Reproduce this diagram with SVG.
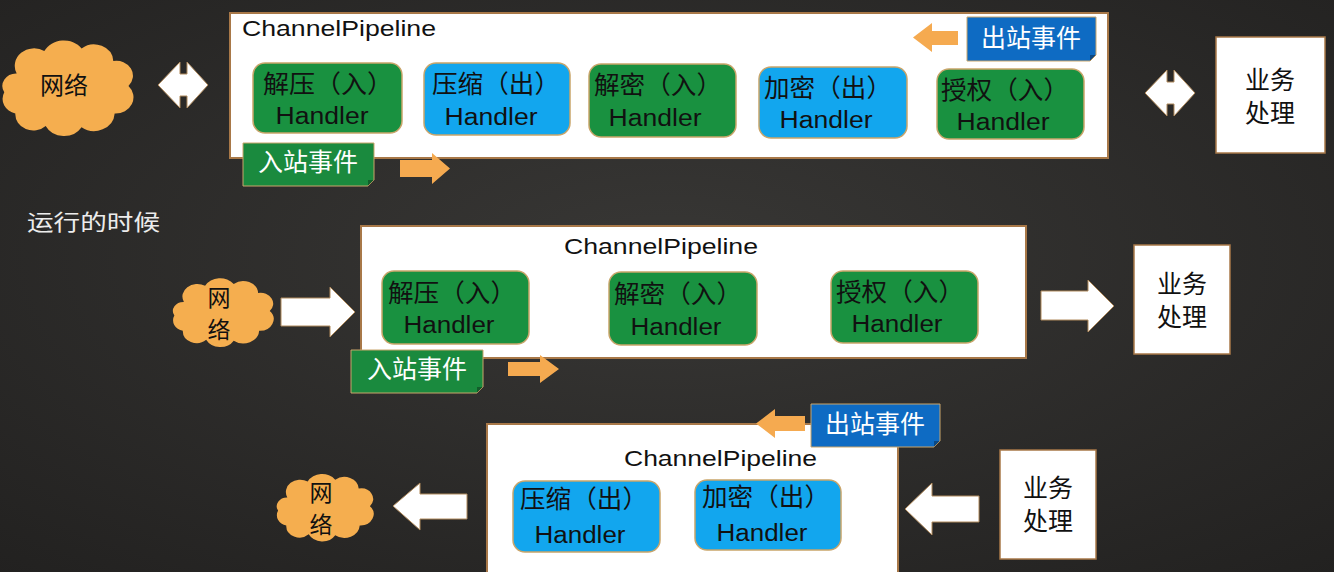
<svg xmlns="http://www.w3.org/2000/svg" width="1334" height="572" viewBox="0 0 1334 572">
<defs>
<radialGradient id="bg" cx="50%" cy="45%" r="75%">
<stop offset="0" stop-color="#383735"/>
<stop offset="1" stop-color="#222120"/>
</radialGradient>
<path id="cloud" d="M 15,30 A 14 14 0 0 1 35,12 A 16 16 0 0 1 62,10 A 14 14 0 0 1 85,20 A 12 12 0 0 1 96,40 A 13 13 0 0 1 86,62 A 15 15 0 0 1 62,73 A 15 15 0 0 1 36,72 A 13 13 0 0 1 14,62 A 12 12 0 0 1 6,45 A 10 10 0 0 1 15,30 Z"/>
</defs>
<style>
.pipe{fill:#ffffff;stroke:#a87848;stroke-width:2}
.biz{fill:#ffffff;stroke:#a87848;stroke-width:1.5}
.hin{fill:#199140;stroke:#c9a56a;stroke-width:1.5}
.hout{fill:#12a6ee;stroke:#c9a56a;stroke-width:1.5}
.cloud{fill:#f5ae4f}
.org{fill:#f5aa50}
.wht{fill:#ffffff;stroke:#b08a5c;stroke-width:1}
.lin{fill:#1a8a3e;stroke:#c9a56a;stroke-width:1}
.lout{fill:#0e6bc3;stroke:#c9a56a;stroke-width:1}
.fold{fill:#0a0a0a;opacity:0.35}
.t{font-family:"Liberation Sans","Noto Sans CJK SC",sans-serif;fill:#111111}
.cj{font-family:"Noto Sans CJK SC","Liberation Sans",sans-serif;fill:#111111}
.cw{font-family:"Noto Sans CJK SC","Liberation Sans",sans-serif;fill:#ffffff}
.mid{text-anchor:middle}
</style>
<rect width="1334" height="572" fill="url(#bg)"/>

<!-- ===== Row 1 ===== -->
<g id="net1">
<use href="#cloud" class="cloud" transform="translate(-4,36) scale(1.38,1.25)"/>
<text class="cj mid" x="64" y="94" font-size="24">网络</text>
</g>
<g id="pipeline1">
<rect class="pipe" x="230" y="13" width="878" height="145"/>
<text class="t" x="242" y="36" font-size="22" textLength="194" lengthAdjust="spacingAndGlyphs">ChannelPipeline</text>
</g>
<g id="h1-1">
<rect class="hin" x="253" y="63" width="149" height="70" rx="12"/>
<text class="cj mid" x="328" y="93" font-size="25" textLength="130" lengthAdjust="spacingAndGlyphs">解压（入）</text>
<text class="t mid" x="322" y="124" font-size="23" textLength="93" lengthAdjust="spacingAndGlyphs">Handler</text>
</g>
<g id="h1-2">
<rect class="hout" x="424" y="63" width="146" height="72" rx="12"/>
<text class="cj mid" x="496" y="93" font-size="25" textLength="128" lengthAdjust="spacingAndGlyphs">压缩（出）</text>
<text class="t mid" x="491" y="125" font-size="23" textLength="93" lengthAdjust="spacingAndGlyphs">Handler</text>
</g>
<g id="h1-3">
<rect class="hin" x="589" y="64" width="147" height="73" rx="12"/>
<text class="cj mid" x="658" y="94" font-size="25" textLength="128" lengthAdjust="spacingAndGlyphs">解密（入）</text>
<text class="t mid" x="655" y="126" font-size="23" textLength="93" lengthAdjust="spacingAndGlyphs">Handler</text>
</g>
<g id="h1-4">
<rect class="hout" x="759" y="67" width="148" height="71" rx="12"/>
<text class="cj mid" x="828" y="97" font-size="25" textLength="128" lengthAdjust="spacingAndGlyphs">加密（出）</text>
<text class="t mid" x="826" y="128" font-size="23" textLength="93" lengthAdjust="spacingAndGlyphs">Handler</text>
</g>
<g id="h1-5">
<rect class="hin" x="937" y="69" width="147" height="70" rx="12"/>
<text class="cj mid" x="1005" y="99" font-size="25" textLength="128" lengthAdjust="spacingAndGlyphs">授权（入）</text>
<text class="t mid" x="1003" y="130" font-size="23" textLength="93" lengthAdjust="spacingAndGlyphs">Handler</text>
</g>
<g id="inbound1">
<path class="lin" d="M243,143 H374 V180 L368,186 H243 Z"/>
<path class="fold" d="M374,180 L368,186 L368,180 Z"/>
<text class="cw mid" x="308" y="171" font-size="25">入站事件</text>
</g>
<g id="outbound1">
<path class="lout" d="M967,17 H1096 V55 L1090,61 H967 Z"/>
<path class="fold" d="M1096,55 L1090,61 L1090,55 Z"/>
<text class="cw mid" x="1031" y="47" font-size="25">出站事件</text>
</g>
<g id="biz1">
<rect class="biz" x="1216" y="37" width="109" height="116"/>
<text class="cj mid" x="1270" y="89" font-size="25">业务</text>
<text class="cj mid" x="1270" y="122" font-size="25">处理</text>
</g>

<!-- ===== Running label ===== -->
<text id="running" x="27" y="230" font-size="22" textLength="133" lengthAdjust="spacingAndGlyphs" style="font-family:'Noto Sans CJK SC','Liberation Sans',sans-serif;fill:#ececec">运行的时候</text>

<!-- ===== Row 2 ===== -->
<g id="net2">
<use href="#cloud" class="cloud" transform="translate(168,275) scale(1.06,0.9)"/>
<text class="cj mid" x="219" y="306" font-size="23">网</text>
<text class="cj mid" x="219" y="338" font-size="23">络</text>
</g>
<g id="pipeline2">
<rect class="pipe" x="361" y="226" width="665" height="132"/>
<text class="t" x="564" y="254" font-size="22" textLength="194" lengthAdjust="spacingAndGlyphs">ChannelPipeline</text>
</g>
<g id="h2-1">
<rect class="hin" x="382" y="271" width="147" height="73" rx="12"/>
<text class="cj mid" x="452" y="302" font-size="25" textLength="128" lengthAdjust="spacingAndGlyphs">解压（入）</text>
<text class="t mid" x="449" y="333" font-size="23" textLength="91" lengthAdjust="spacingAndGlyphs">Handler</text>
</g>
<g id="h2-2">
<rect class="hin" x="609" y="272" width="148" height="73" rx="12"/>
<text class="cj mid" x="678" y="303" font-size="25" textLength="128" lengthAdjust="spacingAndGlyphs">解密（入）</text>
<text class="t mid" x="676" y="335" font-size="23" textLength="91" lengthAdjust="spacingAndGlyphs">Handler</text>
</g>
<g id="h2-3">
<rect class="hin" x="831" y="271" width="147" height="72" rx="12"/>
<text class="cj mid" x="900" y="301" font-size="25" textLength="128" lengthAdjust="spacingAndGlyphs">授权（入）</text>
<text class="t mid" x="897" y="332" font-size="23" textLength="91" lengthAdjust="spacingAndGlyphs">Handler</text>
</g>
<g id="inbound2">
<path class="lin" d="M351,350 H483 V387 L477,393 H351 Z"/>
<path class="fold" d="M483,387 L477,393 L477,387 Z"/>
<text class="cw mid" x="417" y="378" font-size="25">入站事件</text>
</g>
<g id="biz2">
<rect class="biz" x="1134" y="245" width="96" height="109"/>
<text class="cj mid" x="1182" y="293" font-size="25">业务</text>
<text class="cj mid" x="1182" y="326" font-size="25">处理</text>
</g>

<!-- ===== Row 3 ===== -->
<g id="net3">
<use href="#cloud" class="cloud" transform="translate(272,471) scale(1.02,0.88)"/>
<text class="cj mid" x="321" y="501" font-size="23">网</text>
<text class="cj mid" x="321" y="533" font-size="23">络</text>
</g>
<g id="pipeline3">
<rect class="pipe" x="487" y="424" width="411" height="160"/>
<text class="t" x="624" y="466" font-size="22" textLength="193" lengthAdjust="spacingAndGlyphs">ChannelPipeline</text>
</g>
<g id="h3-1">
<rect class="hout" x="513" y="481" width="147" height="71" rx="12"/>
<text class="cj mid" x="584" y="508" font-size="25" textLength="128" lengthAdjust="spacingAndGlyphs">压缩（出）</text>
<text class="t mid" x="580" y="543" font-size="23" textLength="91" lengthAdjust="spacingAndGlyphs">Handler</text>
</g>
<g id="h3-2">
<rect class="hout" x="695" y="480" width="146" height="70" rx="12"/>
<text class="cj mid" x="766" y="506" font-size="25" textLength="128" lengthAdjust="spacingAndGlyphs">加密（出）</text>
<text class="t mid" x="762" y="541" font-size="23" textLength="91" lengthAdjust="spacingAndGlyphs">Handler</text>
</g>
<g id="outbound3">
<path class="lout" d="M811,404 H940 V441 L934,447 H811 Z"/>
<path class="fold" d="M940,441 L934,447 L934,441 Z"/>
<text class="cw mid" x="875" y="433" font-size="25">出站事件</text>
</g>
<g id="biz3">
<rect class="biz" x="1000" y="450" width="96" height="109"/>
<text class="cj mid" x="1048" y="497" font-size="25">业务</text>
<text class="cj mid" x="1048" y="530" font-size="25">处理</text>
</g>

<!-- ===== Connectors ===== -->
<g id="connectors">
<path class="wht" d="M158,85 L180,62 V74 H187 V62 L208,85 L187,108 V96 H180 V108 Z"/>
<path class="wht" d="M1145,93 L1167,70 V82 H1174 V70 L1195,93 L1174,116 V104 H1167 V116 Z"/>
<polygon class="org" points="400,160 432,160 432,153 450,168.5 432,184 432,177 400,177"/>
<polygon class="org" points="913,37.5 932,23 932,31 958,31 958,45 932,45 932,52"/>
<polygon class="wht" points="281,298 330,298 330,287 355,312 330,337 330,326 281,326"/>
<polygon class="wht" points="1041,291 1088,291 1088,280 1114,306 1088,332 1088,320 1041,320"/>
<polygon class="org" points="508,362 540,362 540,355 559,369 540,383 540,376 508,376"/>
<polygon class="org" points="756,423.5 775,409 775,416 805,416 805,431 775,431 775,438"/>
<polygon class="wht" points="393,506 420,483 420,494 467,494 467,519 420,519 420,530"/>
<polygon class="wht" points="905,509 932,483 932,496 979,496 979,522 932,522 932,535"/>
</g>
</svg>
